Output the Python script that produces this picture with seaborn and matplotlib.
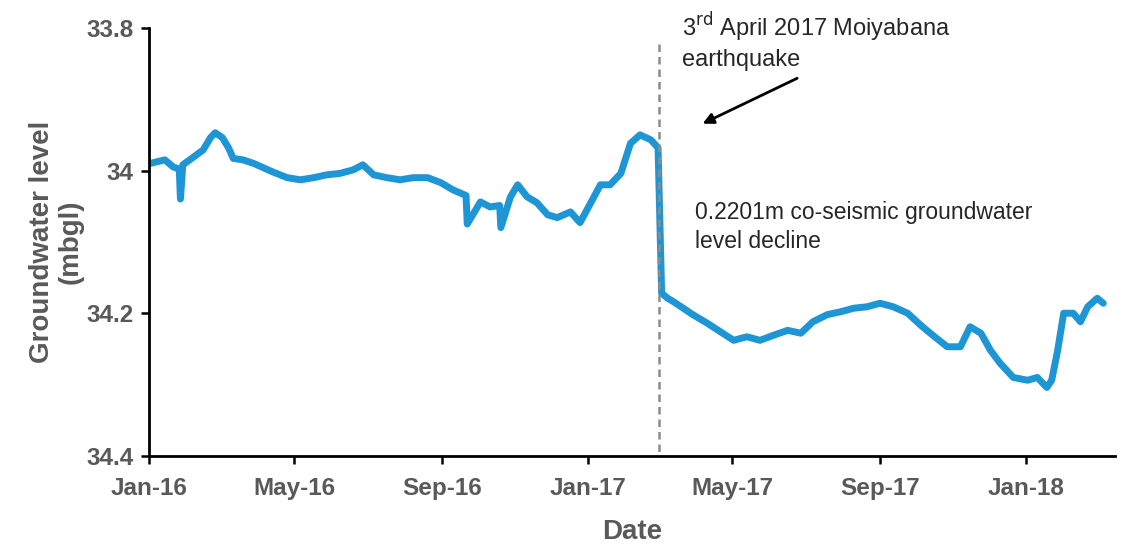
"""Groundwater level at the Moiyabana borehole, 2016-2018."""

import pandas as pd
import seaborn as sns
import matplotlib.pyplot as plt
import matplotlib.dates as mdates

# readings taken off the original figure (mbgl)
dates_pre = ["2016-01-02", "2016-01-14", "2016-01-21", "2016-01-26", "2016-01-27",
             "2016-01-29", "2016-02-07", "2016-02-15", "2016-02-21", "2016-02-25",
             "2016-03-02", "2016-03-07", "2016-03-11", "2016-03-19", "2016-03-28",
             "2016-04-05", "2016-04-13", "2016-04-25", "2016-05-06", "2016-05-17",
             "2016-05-28", "2016-06-08", "2016-06-19", "2016-06-27", "2016-07-06",
             "2016-07-17", "2016-07-28", "2016-08-08", "2016-08-20", "2016-08-31",
             "2016-09-10", "2016-09-21", "2016-09-22", "2016-10-03", "2016-10-11",
             "2016-10-19", "2016-10-20", "2016-10-28", "2016-11-03", "2016-11-11",
             "2016-11-19", "2016-11-28", "2016-12-06", "2016-12-17", "2016-12-25",
             "2017-01-03", "2017-01-11", "2017-01-19", "2017-01-28", "2017-02-05",
             "2017-02-13", "2017-02-22", "2017-02-28"]
level_pre = [33.990, 33.985, 33.995, 33.998, 34.040,
             33.992, 33.981, 33.971, 33.954, 33.947,
             33.954, 33.968, 33.983, 33.985, 33.990,
             33.996, 34.002, 34.010, 34.013, 34.010,
             34.006, 34.004, 33.999, 33.992, 34.006,
             34.010, 34.013, 34.010, 34.010, 34.017,
             34.027, 34.035, 34.075, 34.044, 34.051,
             34.049, 34.080, 34.037, 34.020, 34.037,
             34.045, 34.062, 34.066, 34.058, 34.073,
             34.045, 34.020, 34.020, 34.004, 33.962,
             33.950, 33.957, 33.968]

dates_post = ["2017-03-03", "2017-03-08", "2017-03-13", "2017-03-21", "2017-03-29",
              "2017-04-10", "2017-04-21", "2017-05-02", "2017-05-13", "2017-05-24",
              "2017-06-04", "2017-06-16", "2017-06-27", "2017-07-07", "2017-07-19",
              "2017-07-30", "2017-08-10", "2017-08-21", "2017-09-01", "2017-09-12",
              "2017-09-24", "2017-10-05", "2017-10-15", "2017-10-27", "2017-11-07",
              "2017-11-15", "2017-11-24", "2017-12-02", "2017-12-10", "2017-12-21",
              "2018-01-02", "2018-01-10", "2018-01-18", "2018-01-22", "2018-01-27",
              "2018-02-01", "2018-02-09", "2018-02-15", "2018-02-21", "2018-03-01",
              "2018-03-06"]
level_post = [34.172, 34.179, 34.184, 34.193, 34.202,
              34.214, 34.226, 34.238, 34.233, 34.238,
              34.231, 34.224, 34.228, 34.212, 34.202,
              34.198, 34.193, 34.191, 34.186, 34.191,
              34.200, 34.217, 34.231, 34.247, 34.247,
              34.219, 34.228, 34.252, 34.270, 34.290,
              34.294, 34.290, 34.304, 34.294, 34.252,
              34.200, 34.200, 34.212, 34.191, 34.179,
              34.186]

quake_date = "2017-03-01"
y_ticks = [33.8, 34.0, 34.2, 34.4]
y_tick_labels = ["33.8", "34", "34.2", "34.4"]
x_tick_dates = ["2016-01-01", "2016-05-01", "2016-09-01", "2017-01-01",
                "2017-05-01", "2017-09-01", "2018-01-01"]

df = pd.DataFrame({
    "date": pd.to_datetime(dates_pre + dates_post),
    "level": level_pre + level_post,
})

sns.set_style("ticks")
plt.rcParams["font.family"] = ["Liberation Sans", "DejaVu Sans"]

fig = plt.figure(figsize=(11.22, 5.46), dpi=100)
ax = fig.add_axes([0.133, 0.165, 0.861, 0.784])

sns.lineplot(data=df, x="date", y="level", ax=ax, color="#1e96d6", lw=5)

# earthquake marker
quake = pd.Timestamp(quake_date)
ax.vlines(quake, 33.822, 34.4, colors="#8c8c8c", linestyles=(0, (3, 2)), lw=1.8)

ax.set_ylim(34.4, 33.8)
ax.set_yticks(y_ticks)
ax.set_yticklabels(y_tick_labels)
ax.set_xlim(pd.Timestamp("2016-01-01"), pd.Timestamp("2018-03-16"))
ax.set_xticks(pd.to_datetime(x_tick_dates))
ax.xaxis.set_major_formatter(mdates.DateFormatter("%b-%y"))

grey = "#595959"
ax.tick_params(axis="both", labelsize=17.5, labelcolor=grey, width=1.8,
               length=6, color="black")
ax.tick_params(axis="x", pad=9)
ax.tick_params(axis="y", pad=5)
for lab in ax.get_xticklabels() + ax.get_yticklabels():
    lab.set_fontweight("bold")
for side in ["left", "bottom"]:
    ax.spines[side].set_linewidth(2)
    ax.spines[side].set_color("black")
sns.despine(ax=ax)

ax.set_xlabel("Date", fontsize=20, fontweight="bold", color=grey, labelpad=14)
ax.set_ylabel("Groundwater level\n(mbgl)", fontsize=20, fontweight="bold",
              color=grey, labelpad=2, linespacing=1.15)

ax.annotate("", xy=(pd.Timestamp("2017-04-04"), 33.936),
            xytext=(pd.Timestamp("2017-06-26"), 33.869),
            arrowprops=dict(arrowstyle="-|>", color="black", lw=2,
                            mutation_scale=16))
ax.text(pd.Timestamp("2017-03-20"), 33.775,
        "3$^{\\mathrm{rd}}$ April 2017 Moiyabana\nearthquake",
        fontsize=17, color="#262626", va="top", ha="left", linespacing=1.3)
ax.text(pd.Timestamp("2017-03-31"), 34.043,
        "0.2201m co-seismic groundwater\nlevel decline",
        fontsize=16.5, color="#262626", va="top", ha="left", linespacing=1.3)

fig.savefig("out.png", dpi=100)
